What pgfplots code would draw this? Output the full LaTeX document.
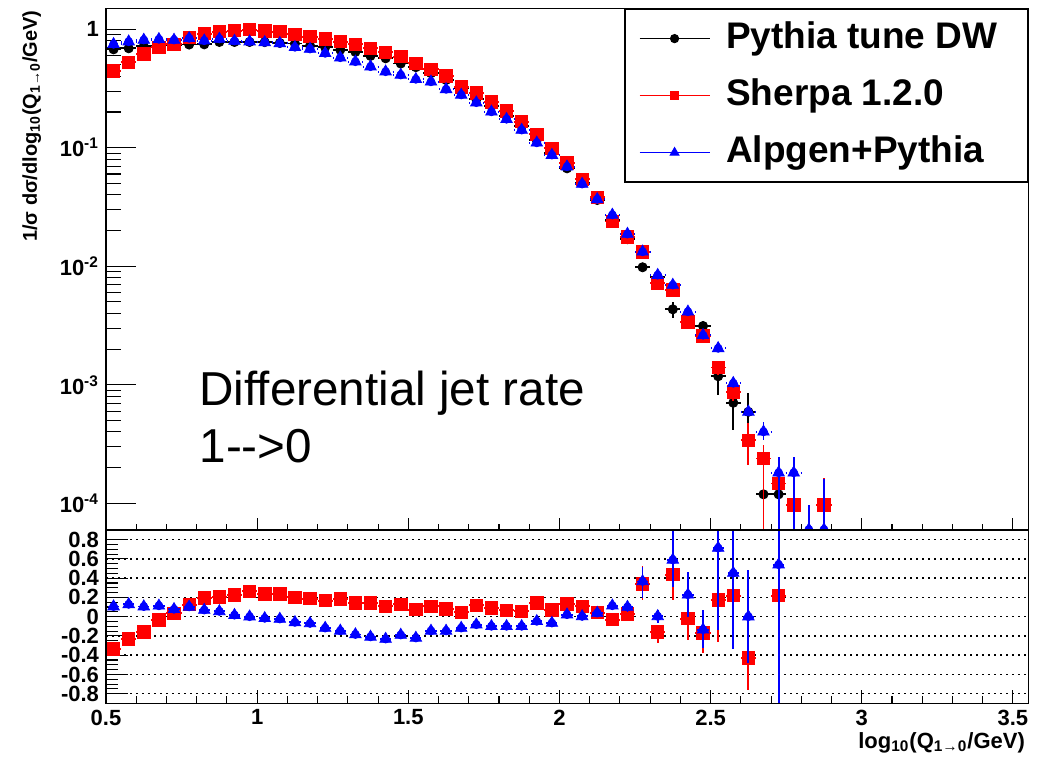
\documentclass[border=0pt]{standalone}
\usepackage{pgfplots}
\pgfplotsset{compat=1.18}
\usepackage{pgfplotstable}
\usepackage{fontspec}
\setmainfont{Liberation Sans}

% top panel: x, y, y error plus, y error minus
\pgfplotstableread{
x y ep em
0.525 0.676 0 0
0.575 0.690 0 0
0.625 0.718 0 0
0.675 0.720 0 0
0.725 0.728 0 0
0.775 0.742 0 0
0.825 0.745 0 0
0.875 0.780 0 0
0.925 0.780 0 0
0.975 0.780 0 0
1.025 0.778 0 0
1.075 0.765 0 0
1.125 0.756 0 0
1.175 0.725 0 0
1.225 0.703 0 0
1.275 0.670 0 0
1.325 0.643 0 0
1.375 0.595 0 0
1.425 0.568 0 0
1.475 0.513 0 0
1.525 0.478 0 0
1.575 0.425 0 0
1.625 0.373 0 0
1.675 0.317 0 0
1.725 0.256 0 0
1.775 0.225 0 0
1.825 0.185 0 0
1.875 0.152 0 0
1.925 0.116 0 0
1.975 0.0897 0 0
2.025 0.0670 0 0
2.075 0.0507 0 0
2.125 0.0362 0 0
2.175 0.0246 0 0
2.225 0.0169 0 0
2.275 0.0098 0.0004 0.0004
2.325 0.0081 0.0004 0.0004
2.375 0.00433 0.0007 0.0007
2.425 0.00338 0.0003 0.0003
2.475 0.00313 0.0003 0.0003
2.525 0.00118 0.0002 0.00036
2.575 0.000705 0.00014 0.00029
2.625 0.000591 0.00026 0.00018
2.675 0.000119 0.00001 0.000115
2.725 0.000119 0.00001 0.000115
}\pythiatop

\pgfplotstableread{
x y ep em
0.525 0.444 0 0
0.575 0.526 0 0
0.625 0.618 0 0
0.675 0.704 0 0
0.725 0.746 0 0
0.775 0.848 0 0
0.825 0.916 0 0
0.875 0.953 0 0
0.925 0.971 0 0
0.975 0.990 0 0
1.025 0.966 0 0
1.075 0.953 0 0
1.125 0.906 0 0
1.175 0.865 0 0
1.225 0.827 0 0
1.275 0.785 0 0
1.325 0.746 0 0
1.375 0.690 0 0
1.425 0.638 0 0
1.475 0.586 0 0
1.525 0.515 0 0
1.575 0.459 0 0
1.625 0.403 0 0
1.675 0.327 0 0
1.725 0.291 0 0
1.775 0.244 0 0
1.825 0.204 0 0
1.875 0.166 0 0
1.925 0.130 0 0
1.975 0.0989 0 0
2.025 0.0747 0 0
2.075 0.0541 0 0
2.125 0.0381 0 0
2.175 0.0238 0 0
2.225 0.0177 0 0
2.275 0.01325 0.0006 0.0006
2.325 0.00718 0.0005 0.0005
2.375 0.0063 0.0005 0.0005
2.425 0.0034 0.0003 0.0003
2.475 0.00258 0.0003 0.0003
2.525 0.0014 0.0002 0.0002
2.575 0.000873 0.00012 0.00015
2.625 0.000341 0.000134 0.000131
2.675 0.000239 0.00007 0.000235
2.725 0.000147 0.00002 0.000145
2.775 0.0000966 0.000025 0.000095
2.875 0.0000966 0.000066 0.000095
}\sherpatop

\pgfplotstableread{
x y ep em
0.525 0.746 0 0
0.575 0.785 0 0
0.625 0.811 0 0
0.675 0.822 0 0
0.725 0.811 0 0
0.775 0.838 0 0
0.825 0.800 0 0
0.875 0.827 0 0
0.925 0.795 0 0
0.975 0.785 0 0
1.025 0.775 0 0
1.075 0.760 0 0
1.125 0.704 0 0
1.175 0.681 0 0
1.225 0.626 0 0
1.275 0.575 0 0
1.325 0.532 0 0
1.375 0.483 0 0
1.425 0.438 0 0
1.475 0.411 0 0
1.525 0.378 0 0
1.575 0.360 0 0
1.625 0.311 0 0
1.675 0.279 0 0
1.725 0.240 0 0
1.775 0.201 0 0
1.825 0.174 0 0
1.875 0.141 0 0
1.925 0.110 0 0
1.975 0.0867 0 0
2.025 0.0691 0 0
2.075 0.0494 0 0
2.125 0.0367 0 0
2.175 0.0271 0 0
2.225 0.0187 0 0
2.275 0.01325 0 0
2.325 0.00841 0 0
2.375 0.00694 0 0
2.425 0.00413 0 0
2.475 0.00262 0 0
2.525 0.00203 0 0
2.575 0.00103 0 0
2.625 0.000591 0 0
2.675 0.000401 0.000086 0.00006
2.725 0.000181 0.000066 0.000178
2.775 0.000181 0.000066 0.000178
2.825 0.00006 0.000037 0.00005
2.875 0.00006 0.0001 0.00005
}\alpgentop

% ratio panel
\pgfplotstableread{
x y ep em
0.525 -0.335 0 0
0.575 -0.232 0 0
0.625 -0.159 0 0
0.675 -0.035 0 0
0.725 0.035 0 0
0.775 0.125 0 0
0.825 0.195 0 0
0.875 0.205 0 0
0.925 0.225 0 0
0.975 0.265 0 0
1.025 0.238 0 0
1.075 0.238 0 0
1.125 0.202 0 0
1.175 0.187 0 0
1.225 0.166 0 0
1.275 0.184 0 0
1.325 0.142 0 0
1.375 0.142 0 0
1.425 0.108 0 0
1.475 0.128 0 0
1.525 0.073 0 0
1.575 0.108 0 0
1.625 0.080 0 0
1.675 0.045 0 0
1.725 0.120 0 0
1.775 0.090 0 0
1.825 0.066 0 0
1.875 0.055 0 0
1.925 0.142 0 0
1.975 0.070 0 0
2.025 0.131 0 0
2.075 0.107 0 0
2.125 0.042 0 0
2.175 -0.031 0.03 0.03
2.225 0.028 0.03 0.03
2.275 0.342 0.18 0.17
2.325 -0.159 0.06 0.11
2.375 0.436 0.15 0.26
2.425 -0.021 0.02 0.22
2.475 -0.170 0.05 0.21
2.525 0.176 0.10 0.44
2.575 0.218 0.10 0.55
2.625 -0.429 0.30 0.33
2.725 0.218 0.30 0.30
}\sherparatio

\pgfplotstableread{
x y ep em
0.525 0.105 0 0
0.575 0.128 0 0
0.625 0.105 0 0
0.675 0.113 0 0
0.725 0.077 0 0
0.775 0.102 0 0
0.825 0.069 0 0
0.875 0.055 0 0
0.925 0.016 0 0
0.975 0.000 0 0
1.025 -0.017 0 0
1.075 -0.024 0 0
1.125 -0.059 0 0
1.175 -0.070 0 0
1.225 -0.118 0 0
1.275 -0.147 0 0
1.325 -0.185 0 0
1.375 -0.210 0 0
1.425 -0.232 0 0
1.475 -0.190 0 0
1.525 -0.221 0 0
1.575 -0.148 0 0
1.625 -0.148 0 0
1.675 -0.118 0 0
1.725 -0.083 0 0
1.775 -0.100 0 0
1.825 -0.100 0 0
1.875 -0.100 0 0
1.925 -0.048 0 0
1.975 -0.066 0 0
2.025 0.021 0 0
2.075 0.003 0 0
2.125 0.038 0 0
2.175 0.114 0.04 0.04
2.225 0.100 0.05 0.05
2.275 0.366 0.15 0.17
2.325 0.003 0.07 0.07
2.375 0.590 0.30 0.28
2.425 0.228 0.24 0.23
2.475 -0.135 0.20 0.19
2.525 0.713 0.50 0.85
2.575 0.453 0.60 0.79
2.625 0.000 0.48 0.48
2.725 0.540 2.00 2.00
}\alpgenratio

\pgfplotsset{
  rootbase/.style={scale only axis, width=461.15pt, xmin=0.5, xmax=3.551,
    tick pos=left, tick align=inside,
    axis line style={line width=0.8pt},
    every tick/.style={black, line width=0.55pt},
    clip marker paths=true},
  xonly/.style={rootbase, ymin=0, ymax=1, ytick=\empty,
    xtick={0.5,1,1.5,2,2.5,3,3.5}, minor x tick num=4},
  binbars/.style={error bars/.cd, x dir=both, x fixed=0.025, error mark=none,
    error bar style={line width=0.9pt, #1}},
  errboth/.style={error bars/.cd, x dir=both, x fixed=0.025, y dir=both, y explicit,
    error mark=none, error bar style={line width=0.9pt}},
  erry/.style={error bars/.cd, y dir=both, y explicit, error mark=none,
    error bar style={line width=0.9pt}},
}

\begin{document}
\begin{tikzpicture}
\useasboundingbox (-53pt,-26.85pt) rectangle (465.5pt,351.65pt);

% ---- top panel
\begin{axis}[rootbase, name=top, at={(0,86.65pt)}, anchor=south west, height=260.85pt,
  ymode=log, ymin=5.95e-5, ymax=1.5,
  xtick=\empty,
  ytick={1e-4,1e-3,1e-2,1e-1,1},
  yticklabels={10\textsuperscript{-4},10\textsuperscript{-3},10\textsuperscript{-2},10\textsuperscript{-1},1},
  yticklabel style={font=\bfseries\fontsize{11}{13}\selectfont},
  major tick length=15pt, minor tick length=7.5pt,
  legend style={at={(rel axis cs:1,1)}, anchor=north east, draw=black, line width=0.8pt,
    fill=white, inner xsep=7pt, inner ysep=6pt, row sep=11pt, column sep=8pt,
    font=\bfseries\fontsize{18.5}{22}\selectfont,
    nodes={inner sep=0pt, text height=13.5pt, text depth=4pt}},
  legend cell align=left,
  legend image code/.code={\draw[mark repeat=2, mark phase=2, #1, line width=0.6pt]
    plot coordinates {(0pt,0pt) (17.5pt,0pt) (35pt,0pt)};},
]
\addplot[forget plot, only marks, black, mark=*, mark size=2.3pt, errboth]
  table[x=x, y=y, y error plus=ep, y error minus=em] {\pythiatop};
\addplot[forget plot, only marks, red, mark=square*, mark size=3.1pt, errboth]
  table[x=x, y=y, y error plus=ep, y error minus=em] {\sherpatop};
\addplot[forget plot, only marks, mark=none, blue, binbars={dash pattern=on 2pt off 1.5pt}]
  table[x=x, y=y] {\alpgentop};
\addplot[forget plot, only marks, blue, mark=triangle*, mark size=3.3pt, erry]
  table[x=x, y=y, y error plus=ep, y error minus=em] {\alpgentop};

\addlegendimage{black, mark=*, mark size=2pt}
\addlegendentry{Pythia tune DW\rule{8pt}{0pt}}
\addlegendimage{red, mark=square*, mark size=2pt}
\addlegendentry{Sherpa 1.2.0}
\addlegendimage{blue, mark=triangle*, mark size=2.4pt}
\addlegendentry{Alpgen+Pythia}

\node[anchor=base west, inner sep=0pt, font=\fontsize{23.8}{28.5}\selectfont]
  at (rel axis cs:0.101,0.2396) {Differential jet rate};
\node[anchor=base west, inner sep=0pt, font=\fontsize{23.8}{28.5}\selectfont]
  at (rel axis cs:0.101,0.1303) {1-{}-{}>0};
\end{axis}

% x ticks of the top panel
\begin{axis}[xonly, at={(0,86.65pt)}, anchor=south west, height=260.85pt,
  xticklabels={,,,,,,}, major tick length=6pt, minor tick length=3pt]
\end{axis}

% ---- ratio panel
\begin{axis}[rootbase, name=bot, at={(0,0)}, anchor=south west, height=86.65pt,
  ymin=-0.9, ymax=0.9, xtick=\empty,
  ytick={-0.8,-0.6,-0.4,-0.2,0,0.2,0.4,0.6,0.8},
  yticklabels={-0.8,-0.6,-0.4,-0.2,0,0.2,0.4,0.6,0.8},
  minor y tick num=3,
  yticklabel style={font=\bfseries\fontsize{11}{13}\selectfont},
  major tick length=11pt, minor tick length=6pt,
  ymajorgrids, grid style={black, line width=0.8pt, dash pattern=on 0.8pt off 2.2pt},
]
\addplot[only marks, red, mark=square*, mark size=3.1pt, errboth]
  table[x=x, y=y, y error plus=ep, y error minus=em] {\sherparatio};
\addplot[only marks, mark=none, blue, binbars={dash pattern=on 0.8pt off 1.2pt}]
  table[x=x, y=y] {\alpgenratio};
\addplot[only marks, blue, mark=triangle*, mark size=3.3pt, erry]
  table[x=x, y=y, y error plus=ep, y error minus=em] {\alpgenratio};
\end{axis}

% x ticks and labels of the ratio panel
\begin{axis}[xonly, at={(0,0)}, anchor=south west, height=86.65pt,
  xticklabels={0.5,1,1.5,2,2.5,3,3.5},
  xticklabel style={font=\bfseries\fontsize{11}{12}\selectfont, inner sep=0pt, yshift=-3pt},
  major tick length=6.5pt, minor tick length=3.5pt]
\end{axis}

\node[rotate=90, anchor=base east, inner sep=0pt, font=\bfseries\fontsize{10}{12}\selectfont]
  at ([xshift=-34.6pt, yshift=-1pt]top.north west)
  {1/σ dσ/dlog\textsubscript{10}(Q\textsubscript{1→0}/GeV)};
\node[anchor=base east, inner sep=0pt, font=\bfseries\fontsize{11}{13}\selectfont]
  at ([xshift=-1.5pt, yshift=-22.6pt]bot.south east)
  {log\textsubscript{10}(Q\textsubscript{1→0}/GeV)};
\end{tikzpicture}
\end{document}
